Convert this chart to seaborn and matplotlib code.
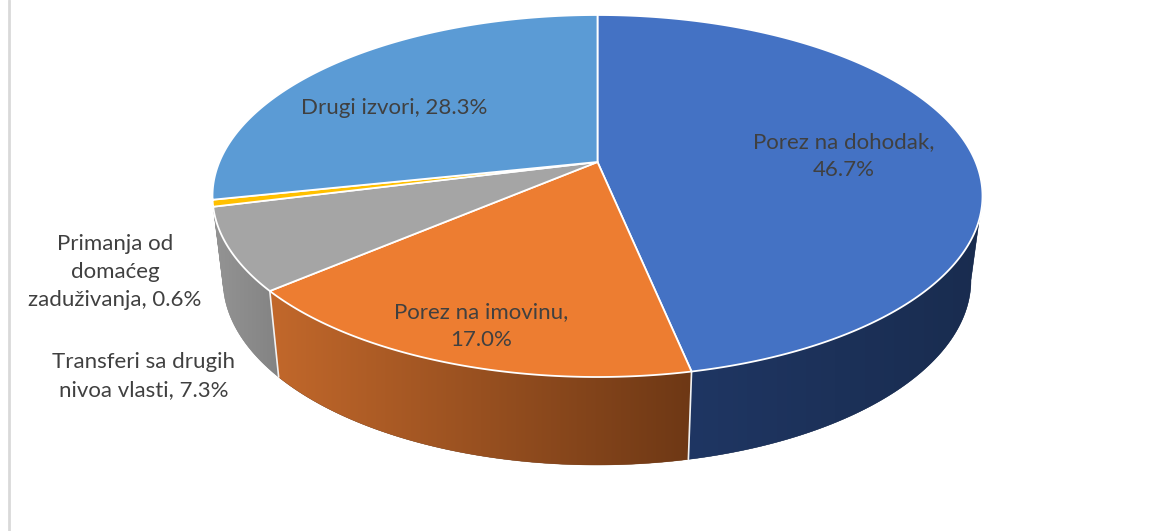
import numpy as np
import matplotlib
matplotlib.use("Agg")
import matplotlib.pyplot as plt
from matplotlib.patches import Polygon
from matplotlib.colors import LinearSegmentedColormap
from matplotlib.lines import Line2D
import seaborn as sns

categories = ["Porez na dohodak,\n", "Porez na imovinu,\n", "Transferi sa drugih\nnivoa vlasti, ",
              "Primanja od\ndomaćeg\nzaduživanja, ", "Drugi izvori, "]
shares = [46.7, 17.0, 7.3, 0.6, 28.3]
top_colors = ["#4472c4", "#ed7d31", "#a5a5a5", "#ffc000", "#5b9bd5"]
wall_left = ["#1f3663", "#c2682b", "#949494", "#949494", "#949494"]
wall_right = ["#192c4f", "#6e3815", "#838383", "#949494", "#949494"]
label_xy = [(844, 156), (481, 326), (144, 376), (115, 272), (394, 108)]

sns.set_theme(style="white")
plt.rcParams["font.family"] = ["Lato", "DejaVu Sans"]
palette = sns.color_palette(top_colors)

fig = plt.figure(figsize=(11.71, 5.31), dpi=100)
ax = fig.add_axes([0, 0, 1, 1])
ax.set_xlim(0, 1171)
ax.set_ylim(531, 0)
ax.axis("off")

# perspective ellipses of the upper and lower disc
k = 34 / 181
TOP = (597.5, 196, 385, 181)
BOT = (597, 280, 374, 185)


def rim(theta, ell):
    cx, cy, rx, ry = ell
    u, v = np.sin(theta), np.cos(theta)
    den = 1 + k * v
    return np.column_stack([cx + rx * np.sqrt(1 - k ** 2) * u / den,
                            cy - ry * (v + k) / den])


cum = np.concatenate([[0], np.cumsum(shares)]) / np.sum(shares) * 2 * np.pi
vis_a, vis_b = np.arccos(-k), 2 * np.pi - np.arccos(-k)
apex = np.array([[TOP[0], TOP[1] - TOP[3] * k]])

# side walls
for i in range(len(shares)):
    a, b = max(cum[i], vis_a), min(cum[i + 1], vis_b)
    if b <= a:
        continue
    t = np.linspace(a, b, 200)
    up, lo = rim(t, TOP), rim(t, BOT)
    pts = np.vstack([up, lo[::-1]])
    poly = Polygon(pts, closed=True, fc=wall_right[i], ec=wall_right[i], lw=0.3, zorder=1)
    ax.add_patch(poly)
    cmap = LinearSegmentedColormap.from_list("w", [wall_left[i], wall_right[i]])
    x0, x1 = pts[:, 0].min(), pts[:, 0].max()
    y0, y1 = pts[:, 1].min(), pts[:, 1].max()
    im = ax.imshow(np.linspace(0, 1, 256)[None, :], cmap=cmap, aspect="auto",
                   extent=[x0, x1, y1, y0], zorder=1.5, interpolation="bilinear")
    im.set_clip_path(poly)
    ax.set_xlim(0, 1171)
    ax.set_ylim(531, 0)

# seams between the walls of the two front slices
for th in cum[1:3]:
    s = np.vstack([rim(np.array([th]), TOP), rim(np.array([th]), BOT)])
    ax.add_line(Line2D(s[:, 0], s[:, 1], color="#f2f2f2", lw=1.2, zorder=2))

# top faces
for i in range(len(shares)):
    t = np.linspace(cum[i], cum[i + 1], 300)
    ax.add_patch(Polygon(np.vstack([apex, rim(t, TOP)]), closed=True, fc=palette[i],
                         ec="white", lw=1.3, zorder=3, joinstyle="round"))

# labels
for cat, val, (x, y) in zip(categories, shares, label_xy):
    ax.text(x, y, f"{cat}{val}%", ha="center", va="center", fontsize=16,
            color="#404040", linespacing=1.47, zorder=5)

# left frame rule
ax.add_line(Line2D([9, 9], [0, 531], color="#d9d9d9", lw=2, zorder=0))

fig.savefig("out.png", dpi=100)
